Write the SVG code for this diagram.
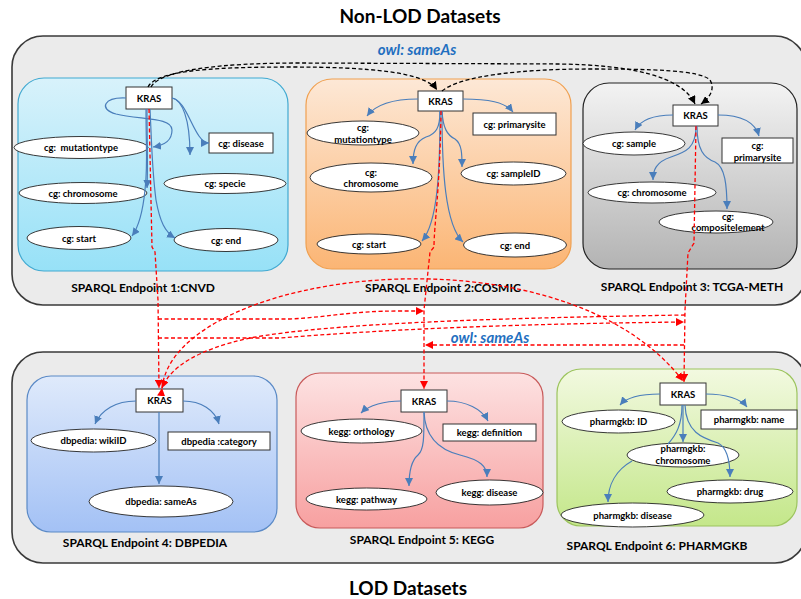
<svg xmlns="http://www.w3.org/2000/svg" width="801" height="599" viewBox="0 0 801 599">
<defs>
<linearGradient id="gCyan" x1="0" y1="0" x2="0" y2="1"><stop offset="0" stop-color="#d8f2fb"/><stop offset="1" stop-color="#97e1f7"/></linearGradient>
<linearGradient id="gOrange" x1="0" y1="0" x2="0" y2="1"><stop offset="0" stop-color="#fde8d6"/><stop offset="1" stop-color="#fbb574"/></linearGradient>
<linearGradient id="gGray" x1="0" y1="0" x2="0" y2="1"><stop offset="0" stop-color="#f3f3f3"/><stop offset="1" stop-color="#b3b3b3"/></linearGradient>
<linearGradient id="gBlue" x1="0" y1="0" x2="0" y2="1"><stop offset="0" stop-color="#dfeafb"/><stop offset="1" stop-color="#a3c1f5"/></linearGradient>
<linearGradient id="gRed" x1="0" y1="0" x2="0" y2="1"><stop offset="0" stop-color="#fde2e2"/><stop offset="1" stop-color="#f7a0a0"/></linearGradient>
<linearGradient id="gGreen" x1="0" y1="0" x2="0" y2="1"><stop offset="0" stop-color="#f2f9e0"/><stop offset="1" stop-color="#c4e78a"/></linearGradient>
<marker id="mb" viewBox="0 0 10 10" refX="10" refY="5" markerWidth="8" markerHeight="8" markerUnits="userSpaceOnUse" orient="auto"><path d="M0,0 L10,5 L0,10 z" fill="#4a7ebb"/></marker>
<marker id="mr" viewBox="0 0 10 10" refX="10" refY="5" markerWidth="8" markerHeight="8" markerUnits="userSpaceOnUse" orient="auto"><path d="M0,0 L10,5 L0,10 z" fill="#ff0000"/></marker>
<marker id="mk" viewBox="0 0 10 10" refX="10" refY="5" markerWidth="8" markerHeight="8" markerUnits="userSpaceOnUse" orient="auto"><path d="M0,0 L10,5 L0,10 z" fill="#000"/></marker>
</defs>
<style>
text{font-family:Lato,"Liberation Sans",sans-serif;font-weight:bold;fill:#000}
.title{font-size:19px}
.plabel{font-size:12px;text-anchor:middle}
.t{font-size:9.5px;text-anchor:middle}
.owl{font-size:15px;font-style:italic;fill:#1f6fc0;text-anchor:middle}
.outer{fill:#ebebeb;stroke:#3a3a3a;stroke-width:1.6}
.el{fill:#fff;stroke:#222;stroke-width:0.9}
.bx{fill:#fff;stroke:#333;stroke-width:1}
.bl{fill:none;stroke:#4a7ebb;stroke-width:1.2;marker-end:url(#mb)}
.bln{fill:none;stroke:#4a7ebb;stroke-width:1.2}
.rd{fill:none;stroke:#ff0000;stroke-width:1.3;stroke-dasharray:4 2.5}
.bk{fill:none;stroke:#000;stroke-width:1.3;stroke-dasharray:4 2.5;marker-end:url(#mk)}
</style>
<rect width="801" height="599" fill="#fff"/>
<text class="title" x="420" y="23" text-anchor="middle">Non-LOD Datasets</text>
<text class="title" x="408" y="595" text-anchor="middle">LOD Datasets</text>

<g id="nonlod">
<rect class="outer" x="12" y="36" width="794" height="269" rx="31"/>
<text class="owl" x="417" y="55">owl: sameAs</text>
</g>
<g id="lod">
<rect class="outer" x="12" y="352" width="794" height="211" rx="31"/>
</g>

<g id="endpoint1">
<rect x="18" y="78" width="270" height="193" rx="26" fill="url(#gCyan)" stroke="#41a9d1" stroke-width="1.2"/>
<text class="plabel" x="143" y="292">SPARQL Endpoint 1:CNVD</text>
</g>
<g id="endpoint2">
<rect x="306" y="79" width="265" height="190" rx="26" fill="url(#gOrange)" stroke="#f0a050" stroke-width="1.2"/>
<text class="plabel" x="443" y="292">SPARQL Endpoint 2:COSMIC</text>
</g>
<g id="endpoint3">
<rect x="583" y="83" width="214" height="186" rx="26" fill="url(#gGray)" stroke="#222" stroke-width="1.2"/>
<text class="plabel" x="692" y="291">SPARQL Endpoint 3: TCGA-METH</text>
</g>
<g id="endpoint4">
<rect x="27" y="376" width="250" height="156" rx="24" fill="url(#gBlue)" stroke="#5b8ac6" stroke-width="1.2"/>
<text class="plabel" x="145" y="547">SPARQL Endpoint 4: DBPEDIA</text>
</g>
<g id="endpoint5">
<rect x="296" y="373" width="247" height="155" rx="24" fill="url(#gRed)" stroke="#c85a5a" stroke-width="1.2"/>
<text class="plabel" x="422" y="544">SPARQL Endpoint 5: KEGG</text>
</g>
<g id="endpoint6">
<rect x="557" y="369" width="240" height="157" rx="24" fill="url(#gGreen)" stroke="#9cc45e" stroke-width="1.2"/>
<text class="plabel" x="657" y="550">SPARQL Endpoint 6: PHARMGKB</text>
</g>

<!-- Endpoint 1 nodes -->
<g id="kras1"><rect class="bx" x="126" y="87" width="46" height="22"/><text class="t" x="149" y="101.5">KRAS</text></g>
<g id="cnvd-mutationtype"><ellipse class="el" cx="81" cy="147.5" rx="67" ry="11"/><text class="t" x="81" y="151" style="white-space:pre">cg:  mutationtype</text></g>
<g id="cnvd-chromosome"><ellipse class="el" cx="83" cy="193" rx="64" ry="10.5"/><text class="t" x="83" y="196.5">cg: chromosome</text></g>
<g id="cnvd-start"><ellipse class="el" cx="79" cy="238" rx="52" ry="11.5"/><text class="t" x="79" y="241.5">cg: start</text></g>
<g id="cnvd-specie"><ellipse class="el" cx="225" cy="183.5" rx="61" ry="10"/><text class="t" x="225" y="187">cg: specie</text></g>
<g id="cnvd-end"><ellipse class="el" cx="226" cy="240" rx="52" ry="11.5"/><text class="t" x="226" y="243.5">cg: end</text></g>
<g id="cnvd-disease"><rect class="bx" x="209" y="133" width="64" height="20"/><text class="t" x="241" y="146.5">cg: disease</text></g>

<!-- Endpoint 2 nodes -->
<g id="kras2"><rect class="bx" x="418" y="91" width="45" height="20"/><text class="t" x="440.5" y="104.5">KRAS</text></g>
<g id="cosmic-mutationtype"><ellipse class="el" cx="363" cy="133" rx="56" ry="12"/><text class="t" x="363" y="130.5">cg:</text><text class="t" x="363" y="142.5">mutationtype</text></g>
<g id="cosmic-primarysite"><rect class="bx" x="473" y="113" width="83" height="22"/><text class="t" x="514.5" y="127.5">cg: primarysite</text></g>
<g id="cosmic-chromosome"><ellipse class="el" cx="371" cy="177.5" rx="61" ry="14.5"/><text class="t" x="371" y="175.5">cg:</text><text class="t" x="371" y="186.5">chromosome</text></g>
<g id="cosmic-sampleID"><ellipse class="el" cx="513.5" cy="173.5" rx="52.5" ry="11.5"/><text class="t" x="513.5" y="177">cg: sampleID</text></g>
<g id="cosmic-start"><ellipse class="el" cx="369" cy="244" rx="52" ry="10"/><text class="t" x="369" y="247.5">cg: start</text></g>
<g id="cosmic-end"><ellipse class="el" cx="515" cy="245" rx="51.5" ry="12"/><text class="t" x="515" y="248.5">cg: end</text></g>

<!-- Endpoint 3 nodes -->
<g id="kras3"><rect class="bx" x="673" y="105" width="45" height="21"/><text class="t" x="695.5" y="119">KRAS</text></g>
<g id="tcga-sample"><ellipse class="el" cx="634" cy="143.5" rx="51" ry="11.5"/><text class="t" x="634" y="147">cg: sample</text></g>
<g id="tcga-primarysite"><rect class="bx" x="722" y="138" width="71" height="25"/><text class="t" x="757.5" y="148.5">cg:</text><text class="t" x="757.5" y="161">primarysite</text></g>
<g id="tcga-chromosome"><ellipse class="el" cx="652" cy="192.5" rx="64" ry="10.5"/><text class="t" x="652" y="196">cg: chromosome</text></g>
<g id="tcga-compositelement"><ellipse class="el" cx="716" cy="222" rx="57" ry="11"/><text class="t" x="728" y="219.5">cg:</text><text class="t" x="728" y="230.5">compositelement</text></g>

<!-- Endpoint 4 nodes -->
<g id="kras4"><rect class="bx" x="136" y="389" width="47" height="23"/><text class="t" x="159.5" y="404">KRAS</text></g>
<g id="dbpedia-wikiID"><ellipse class="el" cx="93.5" cy="440.5" rx="62.5" ry="11.5"/><text class="t" x="93.5" y="444">dbpedia: wikiID</text></g>
<g id="dbpedia-category"><rect class="bx" x="168" y="432" width="102" height="18"/><text class="t" x="219" y="444.5">dbpedia :category</text></g>
<g id="dbpedia-sameAs"><ellipse class="el" cx="161" cy="501.5" rx="72" ry="15.5"/><text class="t" x="161" y="505">dbpedia: sameAs</text></g>

<!-- Endpoint 5 nodes -->
<g id="kras5"><rect class="bx" x="401" y="390" width="46" height="22"/><text class="t" x="424" y="404.5">KRAS</text></g>
<g id="kegg-orthology"><ellipse class="el" cx="361.5" cy="431" rx="60.5" ry="12"/><text class="t" x="361.5" y="434.5">kegg: orthology</text></g>
<g id="kegg-definition"><rect class="bx" x="443" y="424" width="93" height="17"/><text class="t" x="489.5" y="436">kegg: definition</text></g>
<g id="kegg-pathway"><ellipse class="el" cx="366.5" cy="499" rx="60.5" ry="11"/><text class="t" x="366.5" y="502.5">kegg: pathway</text></g>
<g id="kegg-disease"><ellipse class="el" cx="489.5" cy="492.5" rx="53.5" ry="12.5"/><text class="t" x="489.5" y="496">kegg: disease</text></g>

<!-- Endpoint 6 nodes -->
<g id="kras6"><rect class="bx" x="660" y="383" width="46" height="22"/><text class="t" x="683" y="397.5">KRAS</text></g>
<g id="pharmgkb-ID"><ellipse class="el" cx="618.5" cy="421.5" rx="56.5" ry="11.5"/><text class="t" x="618.5" y="425">pharmgkb: ID</text></g>
<g id="pharmgkb-name"><rect class="bx" x="701" y="410" width="96" height="19"/><text class="t" x="749" y="423">pharmgkb: name</text></g>
<g id="pharmgkb-chromosome"><ellipse class="el" cx="683" cy="455" rx="56" ry="12"/><text class="t" x="683" y="451.5">pharmgkb:</text><text class="t" x="683" y="464">chromosome</text></g>
<g id="pharmgkb-drug"><ellipse class="el" cx="730" cy="491.5" rx="63" ry="11.5"/><text class="t" x="730" y="495">pharmgkb: drug</text></g>
<g id="pharmgkb-disease"><ellipse class="el" cx="632.5" cy="515" rx="71.5" ry="12"/><text class="t" x="632.5" y="518.5">pharmgkb: disease</text></g>

<g id="connectors">
<!-- endpoint 1 properties -->
<path class="bl" d="M126,98 C104,97 98,109 116,114 C140,120 172,117 172,130 C172,140 166,145 153,147"/>
<path class="bl" d="M147,109 C147,140 148,165 147,188"/>
<path class="bl" d="M146,109 C146,150 148,165 145,190 C143,210 140,225 132,236"/>
<path class="bl" d="M150,109 C152,150 152,170 156,200 C160,222 165,232 175,238"/>
<path class="bl" d="M172,98 C182,100 190,118 190,155"/>
<path class="bl" d="M172,98 C188,100 194,143 209,143"/>
<!-- endpoint 2 properties -->
<path class="bl" d="M418,99 C396,99 376,104 367,116"/>
<path class="bl" d="M463,99 C488,99 505,102 513,112"/>
<path class="bl" d="M440,111 C440,128 436,134 426,137 C416,141 413,150 413,164"/>
<path class="bl" d="M442,111 C443,128 447,135 455,139 C462,144 462,154 462,167"/>
<path class="bl" d="M440,111 C440,170 438,222 422,241"/>
<path class="bl" d="M442,111 C442,170 445,225 463,242"/>
<!-- endpoint 3 properties -->
<path class="bl" d="M673,115 C656,115 641,119 635,130"/>
<path class="bl" d="M718,115 C740,115 755,122 759,136"/>
<path class="bl" d="M696,126 C696,148 686,152 671,157 C656,162 653,170 653,180"/>
<path class="bl" d="M697,126 C697,150 704,158 715,162 C725,167 727,185 727,209"/>
<!-- endpoint 4 properties -->
<path class="bl" d="M136,401 C116,401 101,410 95,424"/>
<path class="bl" d="M183,401 C201,401 215,410 219,424"/>
<path class="bl" d="M159,412 L159,484"/>
<!-- endpoint 5 properties -->
<path class="bl" d="M401,401 C385,401 369,405 361,413"/>
<path class="bl" d="M447,401 C466,401 482,409 488,421"/>
<path class="bl" d="M424,412 C424,438 424,450 418,455 C412,460 409,470 409,486"/>
<path class="bl" d="M424,412 C425,438 440,450 460,455 C480,460 487,466 487,477"/>
<!-- endpoint 6 properties -->
<path class="bl" d="M660,394 C641,394 626,398 620,405"/>
<path class="bl" d="M706,394 C726,394 741,399 747,407"/>
<path class="bl" d="M683,405 L683,442"/>
<path class="bln" d="M682,405 C682,425 676,435 668,444"/>
<path class="bl" d="M685,405 C686,432 702,438 718,443 C728,448 730,462 730,477"/>
<path class="bl" d="M632,461 C616,470 608,485 608,502"/>

<!-- owl:sameAs between non-LOD endpoints -->
<path class="bk" d="M148,87 C156,72 200,67 290,67 C370,67 425,72 437,90"/>
<path class="bk" d="M151,87 C160,70 220,63 300,63 L560,64 C630,65 682,76 695,104"/>
<path class="bk" d="M442,91 C460,76 520,69 590,69 C650,69 700,70 710,80 C716,90 708,99 701,104"/>

<!-- red dashed links -->
<path class="rd" marker-end="url(#mr)" d="M149,109 L152,247 L155,252 L158,300 L159,388"/>
<path class="rd" marker-end="url(#mr)" d="M441,111 C440,190 434,225 434,247 L430,252 L424,310 L424,389"/>
<path class="rd" marker-end="url(#mr)" d="M696,126 L694,243 L688,253 L685,310 L684,382"/>
<path class="rd" marker-end="url(#mr)" d="M158,319 L290,319 C330,317 350,311 400,311 L424,311"/>
<path class="rd" marker-end="url(#mr)" d="M158,338 L280,338 C380,330 500,324 684,322"/>
<path class="rd" marker-end="url(#mr)" d="M685,315 C500,318 330,323 250,338 C195,350 170,368 162,388"/>
<path class="rd" marker-start="url(#mr)" marker-end="url(#mr)" d="M162,388 C175,270 560,220 683,381"/>
<path class="rd" marker-end="url(#mr)" d="M684,345 L425,345"/>
</g>
<text class="owl" x="490" y="343">owl: sameAs</text>
</svg>
